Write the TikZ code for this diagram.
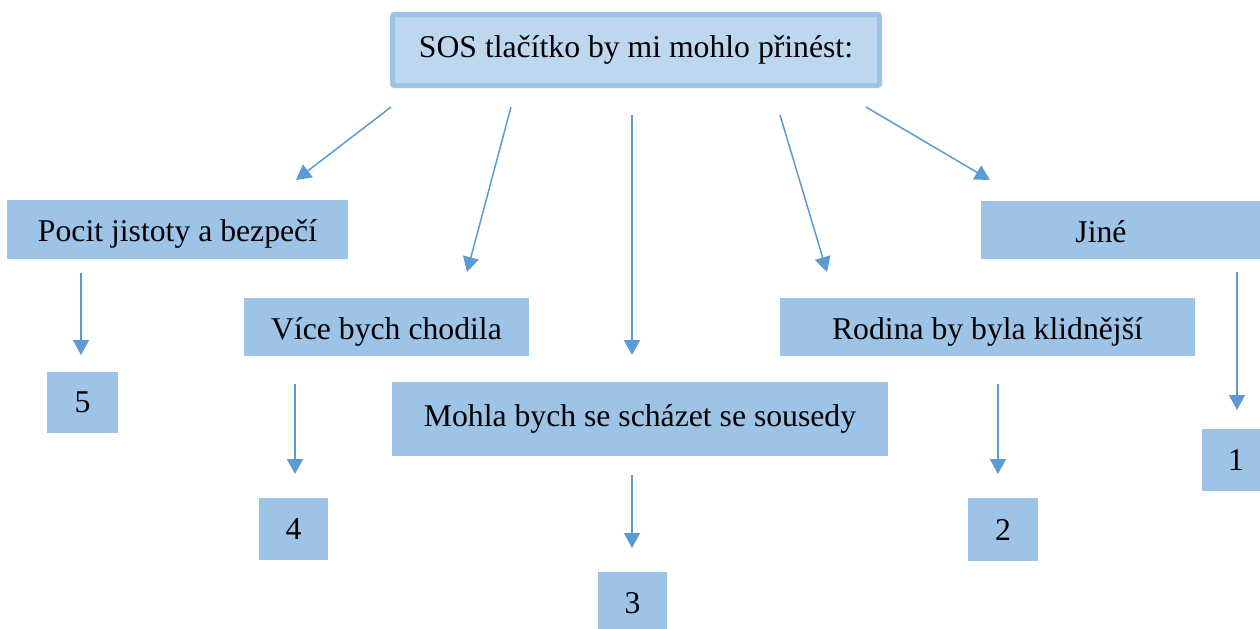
\documentclass[tikz,border=0pt]{standalone}
\usepackage{fontspec}
\setmainfont{Liberation Serif}
\usetikzlibrary{arrows.meta}
\definecolor{boxfill}{HTML}{9DC3E6}
\definecolor{topfill}{HTML}{BDD7EE}
\definecolor{arrowcol}{HTML}{5B9BD5}
\tikzset{
  box/.style={rectangle, fill=boxfill, inner sep=0pt, font=\fontsize{15.85pt}{19pt}\selectfont},
  tbox/.style={box, text height=15pt, text depth=3pt},
  topbox/.style={rectangle, fill=topfill, draw=boxfill, line width=2.5pt, rounded corners=1pt, inner sep=0pt, font=\fontsize{15.85pt}{19pt}\selectfont},
  lbl/.style={inner sep=0pt, font=\fontsize{15.85pt}{19pt}\selectfont, text height=15pt, text depth=3pt},
  arr/.style={draw=arrowcol, line width=0.75pt, -{Triangle[length=7.5pt,width=8pt]}}
}
\begin{document}
\begin{tikzpicture}[x=0.5pt,y=-0.5pt]
\useasboundingbox (0,0) rectangle (1260,628);
\clip (0,0) rectangle (1260,628);
\node[topbox, minimum width=243.5pt, minimum height=35.5pt] (top) at (636,50) {SOS tlačítko by mi mohlo přinést:};
\node[tbox, minimum width=170.5pt, minimum height=29.5pt] (pocit) at (177.5,229.5) {Pocit jistoty a bezpečí};
\node[box, minimum width=35.5pt, minimum height=30.5pt] (five) at (82.5,402.5) {5};
\node[tbox, minimum width=142.5pt, minimum height=29pt] (vice) at (386.5,327) {Více bych chodila};
\node[box, minimum width=34.5pt, minimum height=31pt] (four) at (293.5,529) {4};
\node[box, text height=10pt, text depth=3pt, minimum width=248pt, minimum height=37pt] (mohla) at (640,419) {Mohla bych se scházet se sousedy};
\node[box, minimum width=34.5pt, minimum height=31pt] (three) at (632.5,603) {3};
\node[tbox, minimum width=207.5pt, minimum height=29pt] (rodina) at (987.5,327) {Rodina by byla klidnější};
\node[box, minimum width=35pt, minimum height=31.5pt] (two) at (1003,529.5) {2};
\node[box, minimum width=144pt, minimum height=29pt] (jine) at (1125,230) {};
\node[lbl] (jinetext) at (1101,230) {Jiné};
\node[box, minimum width=34pt, minimum height=31pt] (one) at (1236,460) {1};
% arrow end points
\coordinate (a1s) at (391,107); \coordinate (a1e) at (296,180);
\coordinate (a2s) at (511,107); \coordinate (a2e) at (467,272);
\coordinate (a3s) at (632,115); \coordinate (a3e) at (632,355);
\coordinate (a4s) at (780,115); \coordinate (a4e) at (827,272);
\coordinate (a5s) at (866,107); \coordinate (a5e) at (990,180);
\coordinate (b5s) at (81,273); \coordinate (b5e) at (81,355);
\coordinate (b4s) at (295,384); \coordinate (b4e) at (295,474);
\coordinate (b3s) at (632,475); \coordinate (b3e) at (632,548);
\coordinate (b2s) at (998,384); \coordinate (b2e) at (998,474);
\coordinate (b1s) at (1237,272); \coordinate (b1e) at (1237,410);
\draw[arr] (a1s) -- (a1e);
\draw[arr] (a2s) -- (a2e);
\draw[arr] (a3s) -- (a3e);
\draw[arr] (a4s) -- (a4e);
\draw[arr] (a5s) -- (a5e);
\draw[arr] (b5s) -- (b5e);
\draw[arr] (b4s) -- (b4e);
\draw[arr] (b3s) -- (b3e);
\draw[arr] (b2s) -- (b2e);
\draw[arr] (b1s) -- (b1e);
\end{tikzpicture}
\end{document}
